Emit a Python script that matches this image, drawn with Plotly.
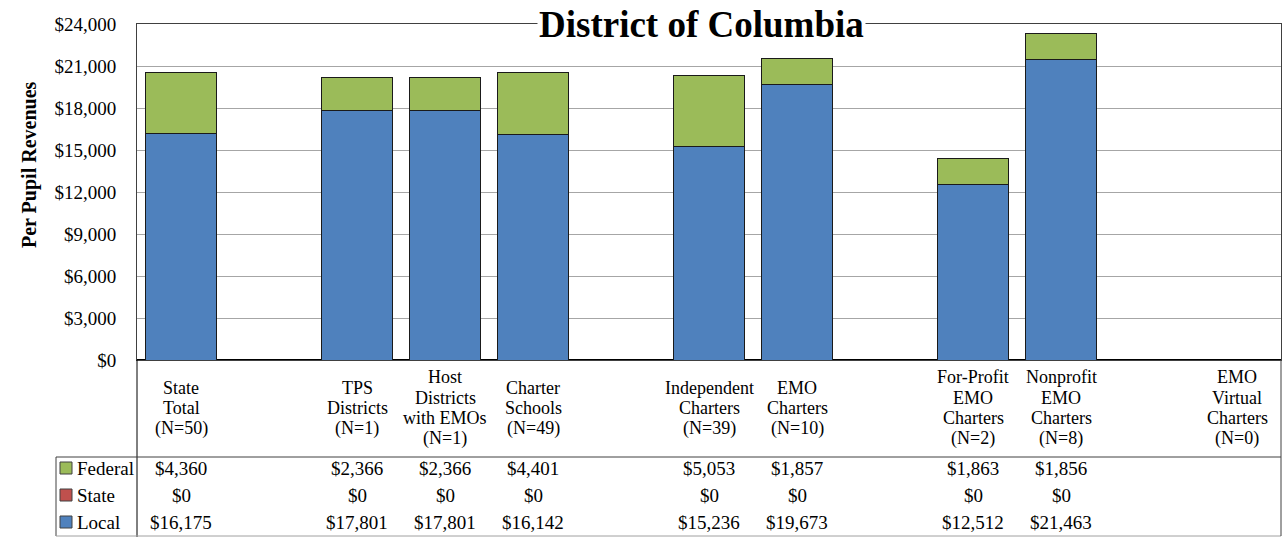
import plotly.graph_objects as go

# categories (multi-line labels) and per pupil revenue by source
labels = [
    "State<br>Total<br>(N=50)",
    "TPS<br>Districts<br>(N=1)",
    "Host<br>Districts<br>with EMOs<br>(N=1)",
    "Charter<br>Schools<br>(N=49)",
    "Independent<br>Charters<br>(N=39)",
    "EMO<br>Charters<br>(N=10)",
    "For-Profit<br>EMO<br>Charters<br>(N=2)",
    "Nonprofit<br>EMO<br>Charters<br>(N=8)",
    "EMO<br>Virtual<br>Charters<br>(N=0)",
]
federal = [4360, 2366, 2366, 4401, 5053, 1857, 1863, 1856, None]
state = [0, 0, 0, 0, 0, 0, 0, 0, None]
local = [16175, 17801, 17801, 16142, 15236, 19673, 12512, 21463, None]
gap_after = [0, 3, 5, 7]  # empty slot after these categories

FONT = "Liberation Serif"
FS = 19
C_LOCAL, C_STATE, C_FED = "#4F81BD", "#C0504D", "#9BBB59"

# build category axis with blank gap slots
cats, fed_v, st_v, loc_v = [], [], [], []
for i, lab in enumerate(labels):
    cats.append(lab); fed_v.append(federal[i]); st_v.append(state[i]); loc_v.append(local[i])
    if i in gap_after:
        cats.append(" " * (len(cats) + 1)); fed_v.append(None); st_v.append(None); loc_v.append(None)

# plot area in pixels
L, R, T, B = 137, 1281, 24, 360
W, H = 1285, 537
def px(p):
    return (p - L) / (R - L)
def py(p):
    return (B - p) / (B - T)

fig = go.Figure()
for name, vals, col in [("Local", loc_v, C_LOCAL), ("State", st_v, C_STATE), ("Federal", fed_v, C_FED)]:
    fig.add_trace(go.Bar(x=cats, y=vals, name=name, marker=dict(color=col, line=dict(color="#1a1a1a", width=1)),
                         width=0.81))

# category labels under the axis, one annotation per line (tighter line spacing)
LINE = 20.5
for lab in labels:
    parts = lab.split("<br>")
    top = 408 - LINE * (len(parts) - 1) / 2
    for k, part in enumerate(parts):
        fig.add_annotation(x=lab, xref="x", y=py(top + k * LINE), yref="paper", text=part, showarrow=False,
                           yanchor="middle", font=dict(family=FONT, size=FS - 1, color="black"))

# data table rows
rows = [("Federal", federal, C_FED, 468), ("State", state, C_STATE, 495), ("Local", local, C_LOCAL, 522)]
for name, vals, col, yy in rows:
    for lab, v in zip(labels, vals):
        if v is None:
            continue
        fig.add_annotation(x=lab, xref="x", y=py(yy), yref="paper", text=f"${v:,.0f}", showarrow=False,
                           yanchor="middle", font=dict(family=FONT, size=FS, color="black"))
    fig.add_shape(type="rect", xref="paper", yref="paper", x0=px(60), x1=px(72), y0=py(yy + 6), y1=py(yy - 6),
                  fillcolor=col, line=dict(color="#404040", width=1))
    fig.add_annotation(x=px(75), xref="paper", y=py(yy), yref="paper", text=name, showarrow=False,
                       xanchor="left", yanchor="middle", font=dict(family=FONT, size=FS, color="black"))

# table borders
lines = [
    (L, B, L, 537, "black"),
    (56, 457, R, 457, "#404040"),
    (56, 457, 56, 536, "#404040"),
    (56, 536, R, 536, "#A0A0A0"),
    (R, B, R, 536, "#404040"),
]
for x0, y0, x1, y1, c in lines:
    fig.add_shape(type="line", xref="paper", yref="paper", x0=px(x0), y0=py(y0), x1=px(x1), y1=py(y1),
                  line=dict(color=c, width=1))

# title over the top border
fig.add_annotation(x=px(701), xref="paper", y=py(24), yref="paper", text="<b>District of Columbia</b>",
                   showarrow=False, yanchor="middle", bgcolor="white", borderpad=1,
                   font=dict(family=FONT, size=37, color="black"))
# y axis title
fig.add_annotation(x=px(30), xref="paper", y=py(165), yref="paper", text="<b>Per Pupil Revenues</b>",
                   showarrow=False, textangle=-90, xanchor="center", yanchor="middle",
                   font=dict(family=FONT, size=20, color="black"))

fig.update_layout(
    width=W, height=H,
    margin=dict(l=L, r=W - R, t=T, b=H - B),
    barmode="stack", bargap=0.19, showlegend=False,
    plot_bgcolor="white", paper_bgcolor="white",
    xaxis=dict(showticklabels=False, showline=True, linecolor="#404040", mirror=True, ticks=""),
    yaxis=dict(range=[0, 24000], dtick=3000, tickformat="$,.0f", showgrid=True, gridcolor="#A6A6A6",
               showline=True, linecolor="#404040", mirror=True, zeroline=True, zerolinecolor="black",
               ticklabelstandoff=16, tickfont=dict(family=FONT, size=FS, color="black")),
)

fig.write_html("out.html", config={"displayModeBar": False},
               post_script="document.body.style.margin='0';")
